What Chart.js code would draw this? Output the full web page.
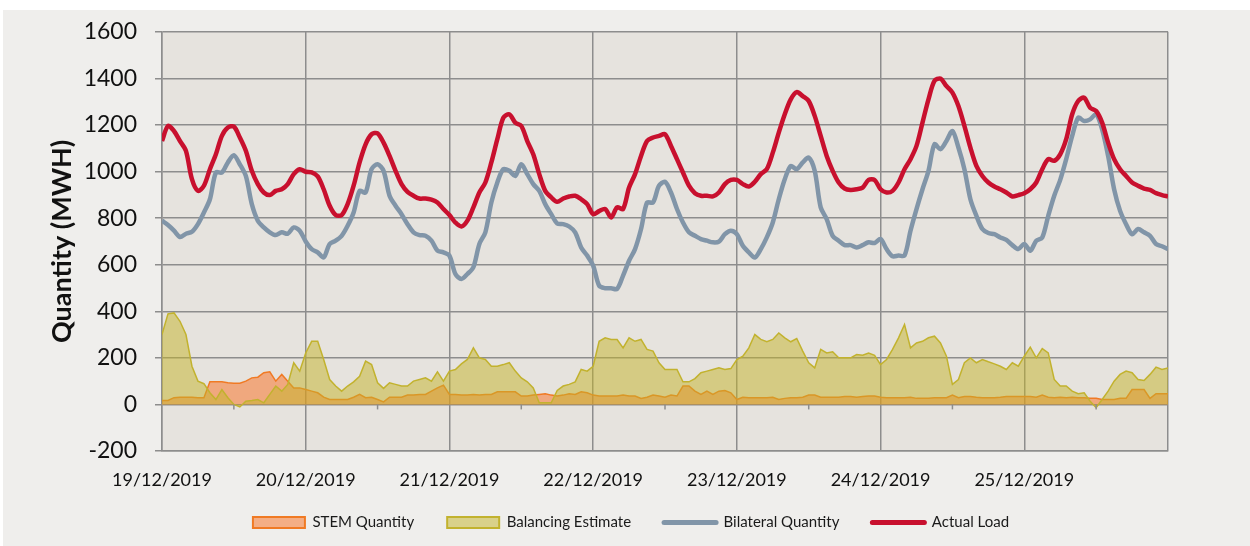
<!DOCTYPE html>
<html>
<head>
<meta charset="utf-8">
<script src="https://cdn.jsdelivr.net/npm/chart.js@4/dist/chart.umd.min.js"></script>
<style>
  html, body { margin: 0; padding: 0; background: #ffffff; }
  #wrap { width: 1250px; height: 546px; position: relative; }
</style>
</head>
<body>
<div id="wrap"><canvas id="chart"></canvas></div>
<script>
// hourly readings, 19/12/2019 00:00 .. 26/12/2019 00:00
const DAY_LABELS = ['19/12/2019', '20/12/2019', '21/12/2019', '22/12/2019', '23/12/2019', '24/12/2019', '25/12/2019'];
const Y_TICKS = [-200, 0, 200, 400, 600, 800, 1000, 1200, 1400, 1600];

const actualLoad = [
  1131, 1196, 1174, 1131, 1089, 967, 917, 939, 1010, 1074, 1153, 1189, 1193, 1146, 1089, 1003, 946, 910, 899, 917, 924, 946, 989, 1010,
  999, 996, 979, 924, 853, 813, 813, 860, 939, 1039, 1117, 1160, 1164, 1124, 1067, 1003, 946, 913, 896, 884, 884, 879, 867, 839,
  813, 781, 764, 789, 846, 910, 953, 1039, 1139, 1231, 1246, 1210, 1196, 1131, 1074, 989, 917, 889, 870, 884, 893, 896, 881, 860,
  817, 830, 839, 803, 846, 839, 931, 989, 1067, 1131, 1146, 1153, 1160, 1110, 1053, 996, 939, 907, 896, 896, 893, 910, 946, 964,
  964, 946, 936, 956, 989, 1010, 1081, 1167, 1246, 1310, 1341, 1324, 1303, 1239, 1153, 1067, 1003, 953, 927, 921, 924, 931, 964, 964,
  924, 910, 917, 953, 1010, 1053, 1110, 1210, 1310, 1389, 1399, 1367, 1339, 1281, 1196, 1103, 1024, 981, 953, 936, 924, 910, 893, 899,
  907, 924, 953, 1010, 1053, 1046, 1074, 1139, 1246, 1303, 1317, 1274, 1260, 1210, 1124, 1053, 1010, 981, 953, 939, 927, 921, 907, 899,
  893
];

const bilateral = [
  789, 770, 746, 719, 733, 741, 774, 824, 881, 996, 996, 1039, 1070, 1031, 981, 860, 789, 760, 739, 727, 739, 733, 760, 746,
  700, 667, 653, 631, 689, 703, 724, 767, 824, 917, 910, 1010, 1031, 1003, 896, 853, 817, 774, 739, 727, 724, 703, 660, 653,
  639, 560, 539, 560, 589, 689, 739, 867, 953, 1010, 1003, 981, 1031, 989, 946, 917, 860, 817, 777, 774, 764, 739, 674, 639,
  596, 510, 499, 499, 496, 553, 617, 667, 753, 867, 867, 939, 956, 910, 839, 781, 739, 724, 710, 703, 696, 699, 731, 746,
  731, 681, 653, 631, 667, 717, 781, 881, 967, 1024, 1010, 1039, 1060, 1003, 846, 796, 724, 703, 684, 684, 674, 684, 696, 693,
  710, 667, 636, 639, 639, 746, 839, 924, 1003, 1117, 1096, 1131, 1174, 1103, 1010, 881, 810, 753, 736, 731, 717, 707, 684, 667,
  689, 660, 703, 717, 810, 896, 964, 1053, 1153, 1231, 1217, 1224, 1246, 1181, 1067, 924, 831, 774, 731, 753, 739, 724, 689, 679,
  667
];

const balancing = [
  300, 389, 393, 357, 300, 164, 100, 89, 50, 21, 64, 29, 0, -11, 14, 17, 21, 7, 43, 79, 57, 86, 179, 143,
  221, 271, 271, 193, 107, 79, 57, 79, 97, 121, 186, 171, 93, 69, 93, 86, 79, 79, 100, 107, 114, 100, 140, 100,
  143, 150, 174, 193, 243, 200, 193, 164, 164, 171, 179, 143, 114, 97, 71, 7, 7, 7, 60, 79, 86, 97, 150, 143,
  164, 271, 286, 279, 279, 243, 286, 271, 279, 236, 229, 179, 150, 150, 150, 97, 97, 111, 136, 143, 150, 157, 150, 154,
  193, 207, 243, 300, 279, 269, 279, 307, 286, 269, 283, 229, 179, 157, 236, 221, 226, 200, 200, 200, 214, 211, 221, 211,
  171, 193, 236, 286, 343, 243, 264, 271, 286, 293, 264, 207, 86, 107, 179, 200, 179, 193, 183, 174, 164, 150, 179, 164,
  207, 246, 200, 240, 221, 107, 79, 79, 57, 46, 50, 14, -14, 21, 57, 100, 129, 143, 136, 107, 103, 129, 160, 150,
  157
];

const stem = [
  17, 17, 29, 31, 31, 31, 29, 29, 97, 97, 97, 93, 91, 91, 100, 114, 117, 136, 140, 100, 129, 100, 71, 71,
  64, 57, 50, 31, 21, 21, 21, 21, 31, 43, 29, 31, 21, 11, 31, 31, 31, 40, 40, 43, 43, 57, 71, 83,
  43, 43, 40, 40, 43, 40, 43, 43, 54, 54, 54, 54, 36, 36, 40, 43, 46, 40, 36, 40, 46, 43, 54, 50,
  40, 36, 36, 36, 36, 40, 36, 36, 26, 31, 40, 36, 31, 40, 36, 79, 79, 57, 43, 57, 43, 57, 60, 50,
  21, 31, 29, 29, 29, 29, 31, 21, 26, 29, 29, 31, 40, 40, 31, 31, 31, 31, 34, 34, 31, 34, 36, 36,
  31, 29, 29, 29, 29, 31, 26, 26, 26, 29, 29, 29, 40, 29, 34, 34, 31, 29, 29, 29, 31, 34, 34, 34,
  34, 34, 31, 40, 31, 29, 31, 29, 31, 29, 29, 26, 26, 21, 21, 21, 26, 26, 64, 64, 64, 26, 46, 46,
  46
];

const GRID = '#8d8d8d';
const FONT = 'Lato';

function toPoints(values) {
  return values.map((v, i) => ({ x: i, y: v }));
}

// page + plot backgrounds, midday tick marks on the zero line
const backdrop = {
  id: 'backdrop',
  beforeDraw(chart) {
    const { ctx, chartArea: a } = chart;
    ctx.save();
    ctx.fillStyle = '#ffffff';
    ctx.fillRect(0, 0, chart.width, chart.height);
    ctx.fillStyle = '#efeeec';
    ctx.fillRect(3, 10, chart.width - 3, chart.height - 10);
    ctx.fillStyle = '#e6e3de';
    ctx.fillRect(a.left, a.top, a.right - a.left, a.bottom - a.top);
    ctx.restore();
  },
  afterDraw(chart) {
    const { ctx, scales: { x, y } } = chart;
    const y0 = y.getPixelForValue(0);
    ctx.save();
    ctx.strokeStyle = GRID;
    ctx.lineWidth = 1.5;
    for (let d = 0; d < DAY_LABELS.length; d++) {
      const px = x.getPixelForValue(d * 24 + 12);
      ctx.beginPath();
      ctx.moveTo(px, y0);
      ctx.lineTo(px, y0 + 5);
      ctx.stroke();
    }
    ctx.restore();
  }
};

Chart.defaults.font.family = FONT;
Chart.defaults.color = '#111111';

new Chart(document.getElementById('chart'), {
  type: 'line',
  data: {
    datasets: [
      {
        label: 'STEM Quantity',
        data: toPoints(stem),
        order: 4,
        fill: 'origin',
        backgroundColor: 'rgba(250,110,30,0.5)',
        borderColor: '#f07a24',
        borderWidth: 1.5,
        pointRadius: 0,
        pointStyle: 'rect',
        pointBackgroundColor: 'rgba(250,110,30,0.5)',
        pointBorderColor: '#f07a24',
        pointBorderWidth: 2
      },
      {
        label: 'Balancing Estimate',
        data: toPoints(balancing),
        order: 3,
        fill: 'origin',
        backgroundColor: 'rgba(196,180,40,0.5)',
        borderColor: '#c2b22e',
        borderWidth: 1.5,
        pointRadius: 0,
        pointStyle: 'rect',
        pointBackgroundColor: 'rgba(196,180,40,0.5)',
        pointBorderColor: '#c2b22e',
        pointBorderWidth: 2
      },
      {
        label: 'Bilateral Quantity',
        data: toPoints(bilateral),
        order: 2,
        fill: false,
        borderColor: '#8195a8',
        borderWidth: 4.5,
        tension: 0.3,
        pointRadius: 0,
        pointStyle: 'line',
        pointBorderColor: '#8195a8',
        pointBorderWidth: 5
      },
      {
        label: 'Actual Load',
        data: toPoints(actualLoad),
        order: 1,
        fill: false,
        borderColor: '#c8102e',
        borderWidth: 4.5,
        tension: 0.3,
        pointRadius: 0,
        pointStyle: 'line',
        pointBorderColor: '#c8102e',
        pointBorderWidth: 5
      }
    ]
  },
  options: {
    responsive: true,
    maintainAspectRatio: false,
    animation: false,
    layout: { padding: { top: 29, right: 0, bottom: 6, left: 12 } },
    scales: {
      x: {
        type: 'linear',
        min: 0,
        max: 168,
        afterBuildTicks(scale) {
          scale.ticks = DAY_LABELS.map((_, i) => ({ value: i * 24 })).concat([{ value: 168 }]);
        },
        afterFit(scale) {
          scale.height = 31;
          // labels hang below the short axis box, don't clip them
          scale._computeLabelArea = () => undefined;
        },
        grid: { color: GRID, lineWidth: 1.5, drawTicks: false },
        border: { color: GRID, width: 1.5 },
        ticks: {
          autoSkip: false,
          maxRotation: 0,
          padding: 18,
          color: '#111111',
          font: { size: 18 },
          callback: v => DAY_LABELS[v / 24] || ''
        }
      },
      y: {
        min: -200,
        max: 1600,
        afterBuildTicks(scale) {
          scale.ticks = Y_TICKS.map(v => ({ value: v }));
        },
        afterFit(scale) { scale.width = 150; },
        grid: { color: GRID, lineWidth: 1.5, tickLength: 7 },
        border: { color: GRID, width: 1.5 },
        ticks: {
          padding: 18,
          color: '#111111',
          font: { size: 23 },
          callback: v => String(v)
        },
        title: {
          display: true,
          text: 'Quantity (MWH)',
          color: '#111111',
          font: { size: 27, weight: 'bold' },
          padding: { top: 34, bottom: 0 }
        }
      },
      // empty right-hand strip so the legend centres on the whole page
      spacer: {
        type: 'linear',
        position: 'right',
        display: true,
        grid: { display: false, drawTicks: false },
        border: { display: false },
        ticks: { display: false },
        afterFit(scale) { scale.width = 82; }
      }
    },
    plugins: {
      legend: {
        position: 'bottom',
        labels: {
          usePointStyle: true,
          pointStyleWidth: 52,
          boxHeight: 11,
          padding: 33,
          color: '#1a1a1a',
          font: { size: 15 },
          sort: (a, b) => a.datasetIndex - b.datasetIndex,
          generateLabels(chart) {
            const items = Chart.defaults.plugins.legend.labels.generateLabels(chart);
            items.forEach(item => {
              if (item.pointStyle === 'line') item.lineCap = 'round';
            });
            return items;
          }
        }
      },
      tooltip: { enabled: false }
    }
  },
  plugins: [backdrop]
});
</script>
</body>
</html>
